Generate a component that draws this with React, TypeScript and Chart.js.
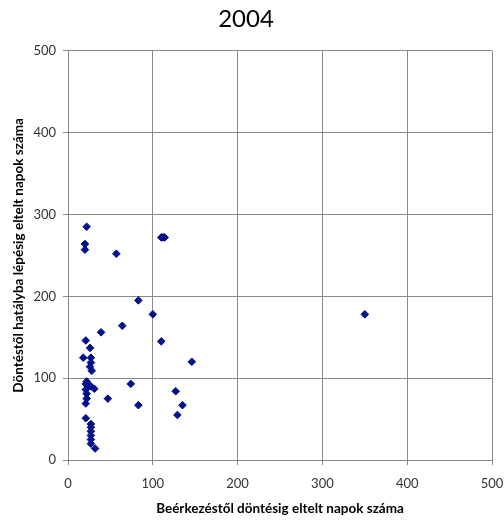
import React, { useEffect, useRef } from "react";
import { Chart, registerables } from "chart.js";

Chart.register(...registerables);

const chartTitle = "2004";
const xAxisTitle = "Beérkezéstől döntésig eltelt napok száma";
const yAxisTitle = "Döntéstől hatályba lépésig eltelt napok száma";

const xValues = [
  22, 20, 20, 57, 110, 112, 114, 83, 100, 64, 39, 21, 110, 26, 18, 27, 27, 26, 28,
  22, 21, 24, 27, 31, 21, 74, 127, 146, 22, 47, 22, 21, 83, 129, 135, 21,
  27, 27, 27, 27, 27, 27, 32, 350,
];
const yValues = [
  285, 264, 257, 252, 272, 272, 272, 195, 178, 164, 156, 146, 145, 137, 125, 125, 119, 114, 109,
  96, 93, 92, 90, 87, 86, 93, 84, 120, 81, 75, 75, 69, 67, 55, 67, 51,
  44, 40, 35, 30, 25, 20, 14, 178,
];

const axisMin = 0;
const axisMax = 500;
const axisStep = 100;

export default function App() {
  const canvasRef = useRef<HTMLCanvasElement | null>(null);

  useEffect(() => {
    if (!canvasRef.current) return;
    const points = xValues.map((x, i) => ({ x, y: yValues[i] }));
    const fontFamily = "Lato, 'Open Sans', sans-serif";
    const chart = new Chart(canvasRef.current, {
      type: "scatter",
      data: {
        datasets: [
          {
            data: points,
            pointStyle: "rectRot",
            pointRadius: 3.8,
            pointBackgroundColor: "#00128f",
            pointBorderColor: "#000c80",
            pointBorderWidth: 1,
            showLine: false,
          },
        ],
      },
      options: {
        animation: false,
        responsive: true,
        maintainAspectRatio: false,
        layout: { padding: { left: 0, right: 12, top: 0, bottom: 0 } },
        plugins: {
          legend: { display: false },
          tooltip: { enabled: false },
          title: {
            display: true,
            text: chartTitle,
            color: "#000000",
            font: { family: fontFamily, size: 24, weight: "normal" },
            padding: { top: 5, bottom: 17 },
          },
        },
        scales: {
          x: {
            type: "linear",
            min: axisMin,
            max: axisMax,
            ticks: {
              stepSize: axisStep,
              color: "#333333",
              font: { family: fontFamily, size: 13 },
              padding: 11,
            },
            grid: { color: "#8a8a8a", tickLength: 5, lineWidth: 1 },
            border: { color: "#868686" },
            title: {
              display: true,
              text: xAxisTitle,
              color: "#000000",
              font: { family: fontFamily, size: 13.5, weight: "bold" },
              padding: { top: 0, bottom: 6 },
            },
            afterFit: (scale: any) => {
              scale.height = 63;
              scale.paddingRight = 12;
            },
          },
          y: {
            type: "linear",
            min: axisMin,
            max: axisMax,
            ticks: {
              stepSize: axisStep,
              color: "#333333",
              font: { family: fontFamily, size: 13 },
              padding: 7,
            },
            grid: { color: "#8a8a8a", tickLength: 5, lineWidth: 1 },
            border: { color: "#868686" },
            title: {
              display: true,
              text: yAxisTitle,
              color: "#000000",
              font: { family: fontFamily, size: 13.5, weight: "bold" },
              padding: { top: 11, bottom: 0 },
            },
            afterFit: (scale: any) => {
              scale.width = 68;
            },
          },
        },
      },
    });
    return () => chart.destroy();
  }, []);

  return (
    <div style={{ position: "absolute", left: 0, top: 0, width: 504, height: 523, background: "#ffffff" }}>
      <canvas ref={canvasRef} />
    </div>
  );
}
